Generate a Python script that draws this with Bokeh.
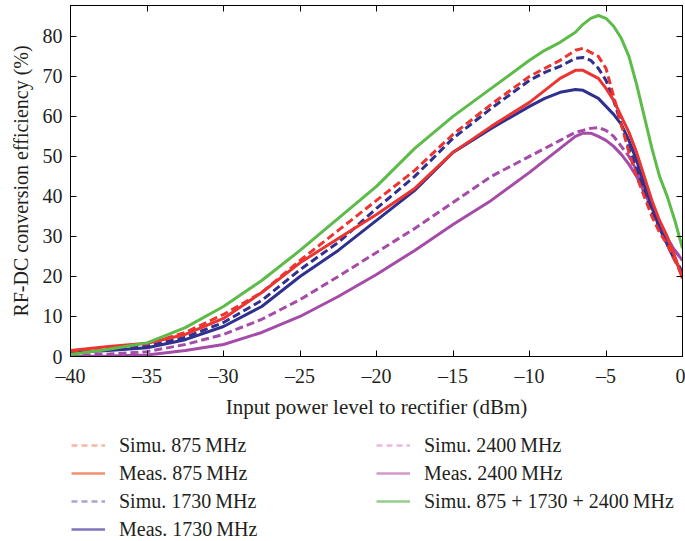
from bokeh.plotting import figure
from bokeh.models import Legend, LegendItem, LinearAxis, Range1d, FixedTicker
from bokeh.layouts import column
from bokeh.embed import file_html
from bokeh.resources import INLINE

# ---- data ----
x_dbm = [-40, -37.5, -35, -32.5, -30, -27.5, -25, -22.5, -20, -17.5, -15, -12.5, -10, -9, -8,
         -7, -6.5, -6, -5.5, -5, -4.5, -4, -3.5, -3, -2.5, -2, -1.5, -1, -0.5, 0]

simu_875 = [1.3, 2.3, 3.2, 6.0, 10.5, 16.0, 24.0, 31.5, 39.0, 46.5, 55.5, 63.0, 70.0, 72.0, 74.0,
            76.5, 77.0, 76.0, 75.0, 72.0, 65.0, 58.0, 51.0, 45.0, 40.0, 35.0, 31.0, 28.0, 24.0, 20.0]
meas_875 = [1.5, 2.5, 3.3, 5.5, 9.5, 16.0, 23.4, 29.5, 35.5, 42.0, 51.0, 57.5, 63.5, 66.5, 69.5,
            71.5, 71.5, 70.5, 69.5, 67.0, 64.0, 60.0, 56.0, 51.0, 45.0, 39.0, 34.0, 30.0, 25.0, 19.5]
simu_1730 = [1.0, 1.8, 2.6, 4.8, 8.5, 14.0, 21.7, 28.5, 37.0, 45.0, 54.5, 62.0, 69.0, 71.0, 72.5,
             74.5, 74.7, 74.0, 72.0, 69.0, 64.0, 58.0, 52.0, 47.0, 41.0, 36.0, 32.0, 28.0, 24.5, 21.0]
meas_1730 = [1.0, 1.5, 2.2, 4.2, 7.5, 12.5, 20.0, 26.5, 34.0, 41.5, 51.0, 57.0, 62.5, 64.5, 66.0,
             66.7, 66.5, 65.5, 64.5, 62.5, 60.5, 58.0, 54.0, 49.0, 43.0, 37.5, 32.0, 28.0, 24.0, 21.0]
simu_2400 = [0.3, 0.6, 1.2, 3.0, 5.5, 9.3, 14.2, 20.0, 26.0, 32.0, 38.5, 45.0, 50.0, 52.0, 54.0,
             56.0, 56.5, 57.0, 57.2, 56.5, 55.0, 52.5, 50.0, 46.5, 42.0, 37.5, 33.0, 29.5, 26.5, 24.0]
meas_2400 = [0.0, 0.1, 0.4, 1.5, 3.0, 6.0, 10.0, 15.0, 20.5, 26.5, 33.0, 39.0, 46.0, 49.0, 52.0,
             55.0, 55.8, 55.8, 55.0, 54.0, 52.5, 50.5, 48.0, 45.0, 41.0, 37.0, 33.0, 29.5, 26.5, 24.0]
simu_all = [0.5, 1.8, 3.4, 7.2, 12.5, 19.0, 26.5, 34.5, 42.5, 52.0, 60.0, 67.0, 74.0, 76.5, 78.5,
            81.0, 83.0, 84.5, 85.2, 84.5, 82.5, 79.5, 75.0, 68.0, 60.0, 52.0, 45.0, 40.0, 34.0, 27.0]

labels = ["Simu. 875\u2009MHz", "Meas. 875\u2009MHz", "Simu. 1730\u2009MHz", "Meas. 1730\u2009MHz",
          "Simu. 2400\u2009MHz", "Meas. 2400\u2009MHz", "Simu. 875 + 1730 + 2400\u2009MHz"]
x_ticks = [-40, -35, -30, -25, -20, -15, -10, -5, 0]
y_ticks = [0, 10, 20, 30, 40, 50, 60, 70, 80]

series = [simu_875, meas_875, simu_1730, meas_1730, simu_2400, meas_2400, simu_all]
dashed = [True, False, True, False, True, False, False]
line_colors = ["#EC3530", "#EC3530", "#30308F", "#30308F", "#A44CA8", "#A44CA8", "#5DBB4A"]
legend_colors = ["#F6B59E", "#F09272", "#A9A4D6", "#8073BD", "#EAB6DC", "#D398CB", "#92CF8C"]

FONT = "Liberation Serif"
TXT = "#231F20"

p = figure(width=685, height=429, x_range=Range1d(-40, 0), y_range=Range1d(0, 87.7),
           output_backend="svg", toolbar_location=None,
           min_border_left=70, min_border_right=3, min_border_top=5, min_border_bottom=73)
p.xgrid.visible = False
p.ygrid.visible = False
p.outline_line_color = "black"
p.outline_line_width = 1

def style_axis(ax, ticks, show_labels):
    ax.ticker = FixedTicker(ticks=ticks)
    ax.major_tick_in = 6
    ax.major_tick_out = 0
    ax.minor_tick_line_color = None
    ax.axis_line_color = "black"
    ax.major_tick_line_color = "black"
    ax.major_label_text_font = FONT
    ax.major_label_text_font_size = "20px"
    ax.major_label_text_color = TXT
    if show_labels:
        ax.major_label_overrides = {t: (("\u2013" + str(abs(t))) if t < 0 else str(t)) for t in ticks}
    else:
        ax.major_label_overrides = {t: "" for t in ticks}
        ax.major_label_standoff = 0

xa = p.xaxis[0]
ya = p.yaxis[0]
style_axis(xa, x_ticks, True)
style_axis(ya, y_ticks, True)
xa.major_label_standoff = 8
ya.major_label_standoff = 8
xa.axis_label = "Input power level to rectifier (dBm)"
ya.axis_label = "RF-DC conversion efficiency (%)"
for ax in (xa, ya):
    ax.axis_label_text_font = FONT
    ax.axis_label_text_font_style = "normal"
    ax.axis_label_text_color = TXT
xa.axis_label_text_font_size = "21px"
ya.axis_label_text_font_size = "20px"
xa.axis_label_standoff = 5
ya.axis_label_standoff = 8

top = LinearAxis()
style_axis(top, x_ticks, False)
p.add_layout(top, "above")
right = LinearAxis()
style_axis(right, y_ticks, False)
p.add_layout(right, "right")

# data curves (magenta first, then blue, red, green)
order = [5, 4, 3, 2, 1, 0, 6]
for i in order:
    kw = dict(line_color=line_colors[i], line_width=3)
    if dashed[i]:
        kw["line_dash"] = "8 4"
    p.line(x_dbm, series[i], **kw)

# ---- legend panel below the chart ----
q = figure(width=685, height=112, x_range=Range1d(0, 1), y_range=Range1d(0, 1),
           output_backend="svg", toolbar_location=None,
           min_border_left=0, min_border_right=0, min_border_top=0, min_border_bottom=0)
q.axis.visible = False
q.xgrid.visible = False
q.ygrid.visible = False
q.outline_line_color = None

items = []
for i in range(7):
    kw = dict(line_color=legend_colors[i], line_width=2.5)
    if dashed[i]:
        kw["line_dash"] = "6 4"
    # legend-only renderer, placed outside the visible range
    r = q.line([5, 6], [5, 6], **kw)
    items.append(LegendItem(label=labels[i], renderers=[r]))

def make_legend(its, loc):
    return Legend(items=its, location=loc, orientation="vertical",
                  label_text_font=FONT, label_text_font_size="20px", label_text_color=TXT,
                  glyph_width=34, glyph_height=24, label_height=24, label_standoff=14,
                  spacing=4, padding=0, margin=0,
                  border_line_color=None, background_fill_alpha=0)

q.add_layout(make_legend(items[:4], (1, 0)), "center")
q.add_layout(make_legend(items[4:], (306, 28)), "center")

layout = column(p, q, spacing=0)
open("out.html", "w").write(file_html(layout, INLINE))
